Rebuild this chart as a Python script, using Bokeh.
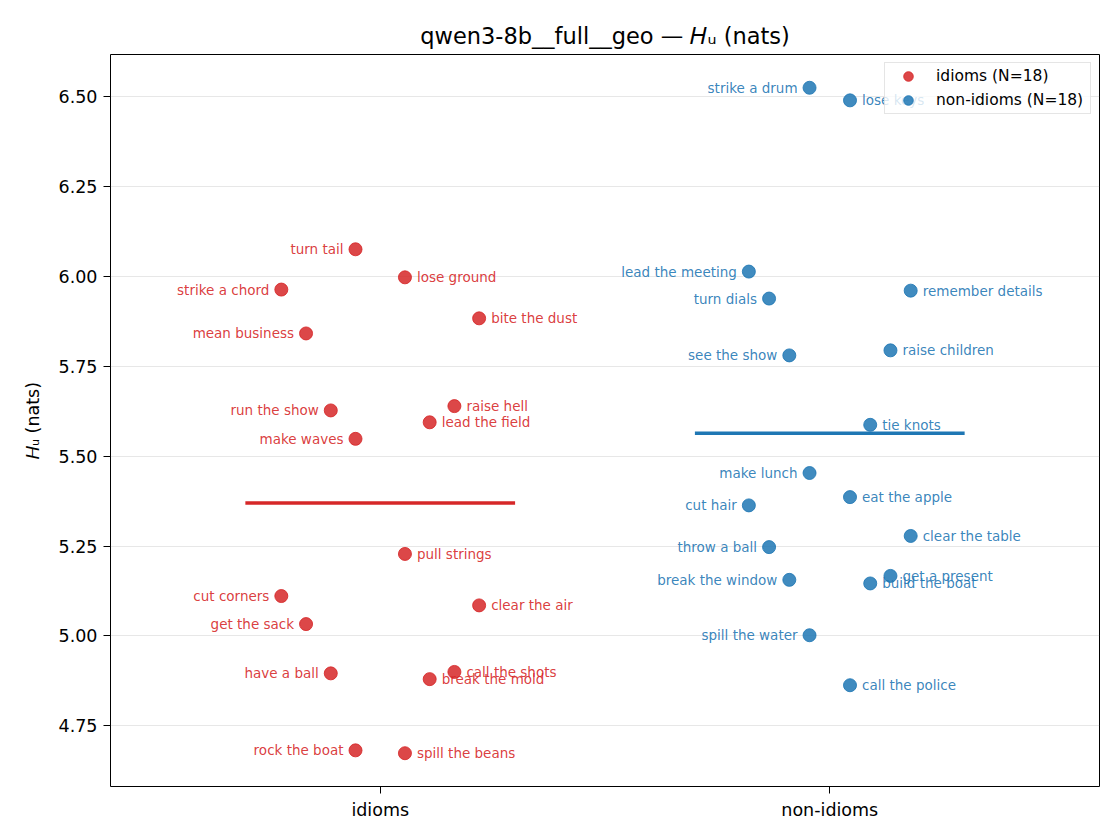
import numpy as np
from bokeh.plotting import figure
from bokeh.models import (ColumnDataSource, FixedTicker, Legend, LegendItem, Range1d,
                          CustomJSTickFormatter)
from bokeh.embed import file_html
from bokeh.resources import INLINE
from bokeh.core.properties import value

# ---------------- data ----------------
groups = ["idioms", "non-idioms"]

idiom_labels = ["turn tail", "lose ground", "strike a chord", "bite the dust", "mean business",
                "raise hell", "run the show", "lead the field", "make waves", "pull strings",
                "cut corners", "clear the air", "get the sack", "call the shots", "have a ball",
                "break the mold", "rock the boat", "spill the beans"]
idiom_values = [6.075, 5.997, 5.963, 5.883, 5.841,
                5.639, 5.627, 5.594, 5.548, 5.228,
                5.111, 5.085, 5.033, 4.900, 4.896,
                4.880, 4.682, 4.674]

nonidiom_labels = ["strike a drum", "lose keys", "lead the meeting", "remember details", "turn dials",
                   "raise children", "see the show", "tie knots", "make lunch", "eat the apple",
                   "cut hair", "clear the table", "throw a ball", "get a present", "break the window",
                   "build the boat", "spill the water", "call the police"]
nonidiom_values = [6.524, 6.489, 6.013, 5.960, 5.938,
                   5.794, 5.780, 5.587, 5.453, 5.386,
                   5.363, 5.278, 5.247, 5.167, 5.156,
                   5.146, 5.002, 4.863]

y_ticks = [4.75, 5.0, 5.25, 5.5, 5.75, 6.0, 6.25, 6.5]

# ---------------- style ----------------
colors = ["#d62728", "#1f77b4"]
jitter_width = [0.22, 0.18]
jitter_pattern = [-1, 1, -4, 4, -3, 3, -2, 2]
FONT = "DejaVu Sans"

all_vals = np.array(idiom_values + nonidiom_values)
span = all_vals.max() - all_vals.min()
y_range = Range1d(all_vals.min() - 0.05 * span, all_vals.max() + 0.05 * span)

p = figure(frame_width=989, frame_height=732,
           min_border_left=110, min_border_top=54, min_border_right=13, min_border_bottom=38,
           x_range=Range1d(-0.6, 1.6), y_range=y_range,
           output_backend="svg", toolbar_location=None,
           title="qwen3-8b__full__geo \u2014 \U0001D43B\u1D64 (nats)")

p.title.align = "center"
p.title.text_font = FONT
p.title.text_font_size = "22.5px"
p.title.text_font_style = "normal"
p.title.text_color = "#000000"
p.title.standoff = 12

p.outline_line_color = "#000000"
p.outline_line_width = 1
p.outline_line_alpha = 1

p.xgrid.visible = False
p.ygrid.grid_line_color = "#b0b0b0"
p.ygrid.grid_line_alpha = 0.3
p.ygrid.grid_line_width = 1.2
p.yaxis.ticker = FixedTicker(ticks=y_ticks)
p.yaxis.formatter = CustomJSTickFormatter(code="return tick.toFixed(2);")
p.xaxis.ticker = FixedTicker(ticks=[0, 1])
p.xaxis.major_label_overrides = {0: groups[0], 1: groups[1]}

for ax in (p.xaxis, p.yaxis):
    ax.axis_line_color = None
    ax.major_tick_line_color = "#000000"
    ax.major_tick_line_width = 1
    ax.major_tick_out = 7
    ax.major_tick_in = 0
    ax.minor_tick_line_color = None
    ax.major_label_text_font = FONT
    ax.major_label_text_font_size = "17.5px"
    ax.major_label_text_color = "#000000"
    ax.major_label_standoff = 6

p.yaxis.axis_label = "\U0001D43B\u1D64 (nats)"
p.yaxis.axis_label_text_font = FONT
p.yaxis.axis_label_text_font_size = "17.5px"
p.yaxis.axis_label_text_font_style = "normal"
p.yaxis.axis_label_text_color = "#000000"
p.yaxis.axis_label_standoff = 13

legend_items = []
for gi, (labels, vals) in enumerate([(idiom_labels, idiom_values), (nonidiom_labels, nonidiom_values)]):
    vals = np.array(vals)
    order = np.argsort(-vals, kind="stable")
    jit = np.zeros(len(vals))
    step = jitter_width[gi] / 4.0
    for rank, idx in enumerate(order):
        jit[idx] = jitter_pattern[rank % len(jitter_pattern)] * step
    xs = gi + jit
    src = ColumnDataSource(dict(x=xs, y=vals, label=labels))
    r = p.scatter("x", "y", source=src, size=13, fill_color=colors[gi], fill_alpha=0.85,
                  line_color=colors[gi], line_alpha=0.85, line_width=1)
    legend_items.append(LegendItem(label=f"{groups[gi]} (N={len(vals)})", renderers=[r]))

    left = jit < 0
    src_l = ColumnDataSource(dict(x=xs[left], y=vals[left], label=list(np.array(labels)[left])))
    src_r = ColumnDataSource(dict(x=xs[~left], y=vals[~left], label=list(np.array(labels)[~left])))
    p.text("x", "y", text="label", source=src_l, x_offset=-12, text_align="right",
           text_baseline="middle", text_font=value(FONT), text_font_size="13.5px",
           text_color=colors[gi], text_alpha=0.9)
    p.text("x", "y", text="label", source=src_r, x_offset=12, text_align="left",
           text_baseline="middle", text_font=value(FONT), text_font_size="13.5px",
           text_color=colors[gi], text_alpha=0.9)

    m = float(vals.mean())
    p.segment(x0=[gi - 0.3], y0=[m], x1=[gi + 0.3], y1=[m], line_color=colors[gi], line_width=3.5)

legend = Legend(items=legend_items, location="top_right")
legend.label_text_font = FONT
legend.label_text_font_size = "15.5px"
legend.label_text_color = "#000000"
legend.glyph_width = 44
legend.glyph_height = 24
legend.label_height = 24
legend.label_width = 153
legend.label_standoff = 6
legend.spacing = 0
legend.padding = 1
legend.margin = 8
legend.border_line_color = "#cccccc"
legend.border_line_width = 1
legend.background_fill_color = "#ffffff"
legend.background_fill_alpha = 0.8
p.add_layout(legend)

open("out.html", "w").write(file_html(p, INLINE))
